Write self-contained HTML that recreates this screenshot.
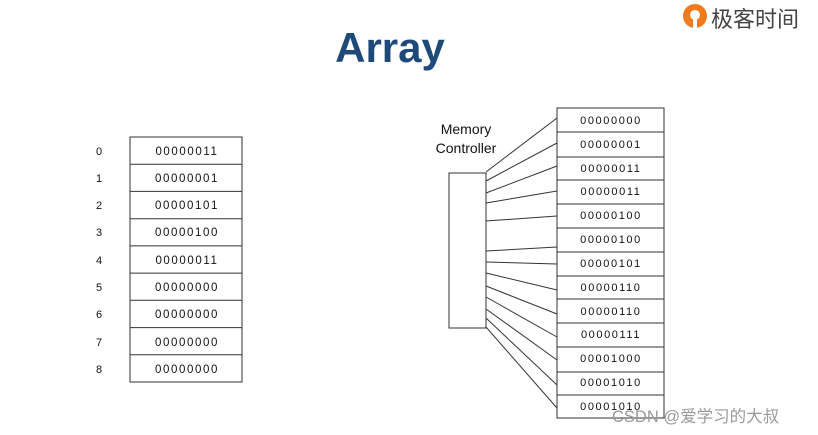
<!DOCTYPE html>
<html><head><meta charset="utf-8"><style>
body{margin:0;width:818px;height:435px;background:#fff;overflow:hidden;position:relative;font-family:"Liberation Sans",sans-serif}
</style></head><body>
<svg width="818" height="435" style="position:absolute;left:0;top:0" font-family="Liberation Sans, Noto Sans CJK SC, sans-serif">
<text x="390" y="62" text-anchor="middle" font-size="42" font-weight="bold" fill="#1d4a78">Array</text>
<g>
<circle cx="695" cy="16" r="12" fill="#f07a1e"/>
<circle cx="695" cy="15" r="5" fill="#fff"/>
<rect x="693" y="16" width="4" height="12" fill="#fff"/>
<text x="711" y="27" font-size="22" fill="#444">极客时间</text>
</g>
<g stroke="#333" stroke-width="1" fill="none">
<rect x="130" y="137" width="112" height="245"/>
<line x1="130" y1="164.2" x2="242" y2="164.2"/><line x1="130" y1="191.4" x2="242" y2="191.4"/>
<line x1="130" y1="218.7" x2="242" y2="218.7"/><line x1="130" y1="245.9" x2="242" y2="245.9"/>
<line x1="130" y1="273.1" x2="242" y2="273.1"/><line x1="130" y1="300.3" x2="242" y2="300.3"/>
<line x1="130" y1="327.6" x2="242" y2="327.6"/><line x1="130" y1="354.8" x2="242" y2="354.8"/>
<rect x="449" y="173" width="37" height="155"/>
<rect x="557" y="108" width="107" height="310"/>
<line x1="557" y1="132" x2="664" y2="132"/><line x1="557" y1="157" x2="664" y2="157"/>
<line x1="557" y1="180" x2="664" y2="180"/><line x1="557" y1="204" x2="664" y2="204"/>
<line x1="557" y1="228" x2="664" y2="228"/><line x1="557" y1="252" x2="664" y2="252"/>
<line x1="557" y1="276" x2="664" y2="276"/><line x1="557" y1="299" x2="664" y2="299"/>
<line x1="557" y1="323" x2="664" y2="323"/><line x1="557" y1="347" x2="664" y2="347"/>
<line x1="557" y1="372" x2="664" y2="372"/><line x1="557" y1="395" x2="664" y2="395"/>
<line x1="486" y1="172" x2="557" y2="118"/><line x1="486" y1="181" x2="557" y2="143"/>
<line x1="486" y1="193" x2="557" y2="166"/><line x1="486" y1="203" x2="557" y2="191"/>
<line x1="486" y1="221" x2="557" y2="216"/><line x1="486" y1="251" x2="557" y2="247"/>
<line x1="486" y1="262" x2="557" y2="264"/><line x1="486" y1="273" x2="557" y2="290"/>
<line x1="486" y1="286" x2="557" y2="314"/><line x1="486" y1="297" x2="557" y2="337"/>
<line x1="486" y1="309" x2="557" y2="360"/><line x1="486" y1="318" x2="557" y2="385"/>
<line x1="486" y1="327" x2="557" y2="408"/>
</g>
<g font-size="11" fill="#111">
<text x="96" y="155">0</text><text x="96" y="182">1</text><text x="96" y="209">2</text>
<text x="96" y="236">3</text><text x="96" y="264">4</text><text x="96" y="291">5</text>
<text x="96" y="318">6</text><text x="96" y="346">7</text><text x="96" y="373">8</text>
</g>
<g font-size="11.5" fill="#111" letter-spacing="1.6" text-anchor="middle">
<text x="187" y="155">00000011</text><text x="187" y="182">00000001</text><text x="187" y="209">00000101</text>
<text x="187" y="236">00000100</text><text x="187" y="264">00000011</text><text x="187" y="291">00000000</text>
<text x="187" y="318">00000000</text><text x="187" y="346">00000000</text><text x="187" y="373">00000000</text>
</g>
<g font-size="11" fill="#111" letter-spacing="1.6" text-anchor="middle">
<text x="611" y="124">00000000</text><text x="611" y="148">00000001</text><text x="611" y="172">00000011</text>
<text x="611" y="195">00000011</text><text x="611" y="219">00000100</text><text x="611" y="243">00000100</text>
<text x="611" y="267">00000101</text><text x="611" y="291">00000110</text><text x="611" y="315">00000110</text>
<text x="611" y="338">00000111</text><text x="611" y="362">00001000</text><text x="611" y="386">00001010</text>
<text x="611" y="410">00001010</text>
</g>
<text x="466" y="134" font-size="14" text-anchor="middle" fill="#111">Memory</text>
<text x="466" y="153" font-size="14" text-anchor="middle" fill="#111">Controller</text>
<text x="612" y="422" font-size="16.5" fill="#9a9a9a">CSDN @爱学习的大叔</text>
</svg>
</body></html>
